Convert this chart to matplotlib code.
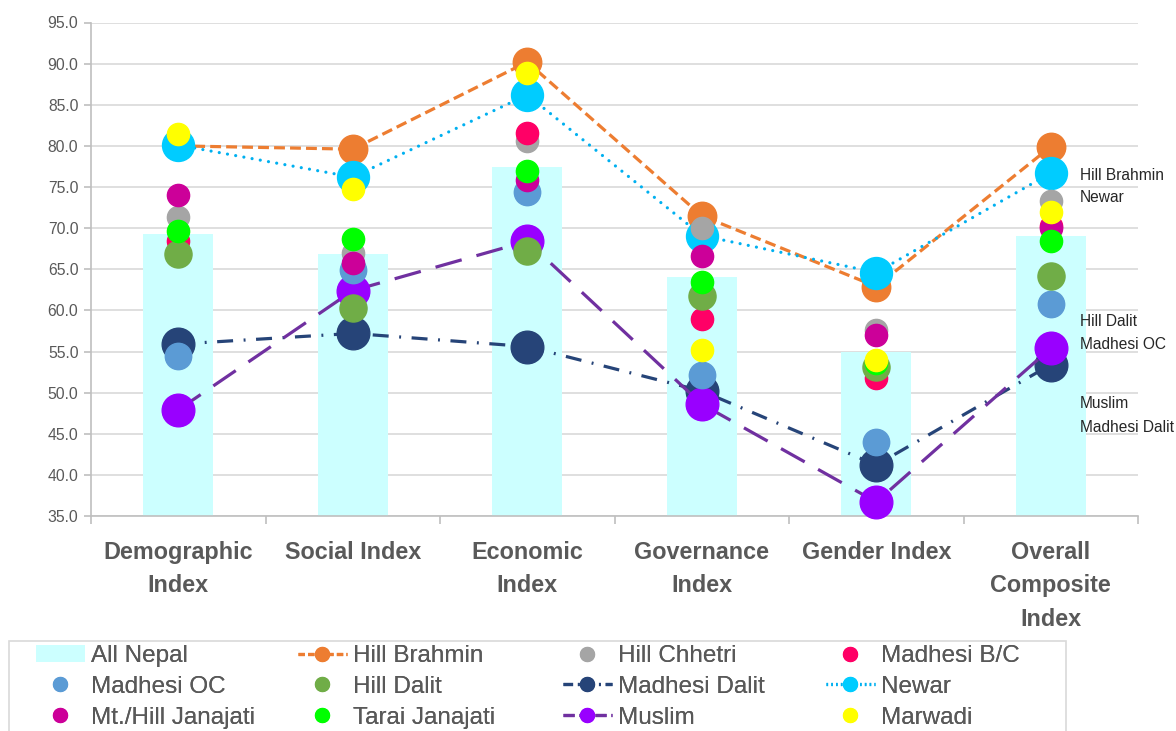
import matplotlib
matplotlib.use("Agg")
import matplotlib.pyplot as plt
from matplotlib.lines import Line2D
from matplotlib.patches import Patch, Rectangle
import numpy as np

categories = ["Demographic\nIndex", "Social Index", "Economic\nIndex",
              "Governance\nIndex", "Gender Index", "Overall\nComposite\nIndex"]

all_nepal = [69.3, 66.9, 77.4, 64.0, 54.9, 69.1]
hill_brahmin = [80.0, 79.6, 90.2, 71.5, 62.9, 79.9]
hill_chhetri = [71.4, 67.0, 80.6, 70.0, 57.6, 73.3]
madhesi_bc = [68.4, 65.5, 81.6, 58.9, 51.8, 70.2]
madhesi_oc = [54.4, 64.9, 74.4, 52.1, 44.0, 60.8]
hill_dalit = [66.9, 60.3, 67.2, 61.7, 53.1, 64.2]
madhesi_dalit = [55.9, 57.2, 55.6, 50.2, 41.2, 53.4]
newar = [80.1, 76.2, 86.2, 69.1, 64.6, 76.7]
mt_hill_janajati = [74.0, 65.7, 75.8, 66.6, 57.0, 70.0]
tarai_janajati = [69.6, 68.7, 76.9, 63.4, 53.6, 68.4]
muslim = [47.9, 62.4, 68.4, 48.6, 36.7, 55.4]
marwadi = [81.4, 74.8, 88.8, 55.2, 54.0, 72.0]

yticks = [35.0, 40.0, 45.0, 50.0, 55.0, 60.0, 65.0, 70.0, 75.0, 80.0, 85.0, 90.0, 95.0]

W, H = 1176, 731
fig = plt.figure(figsize=(W / 100, H / 100), dpi=100)
ax = fig.add_axes([91 / W, (H - 516) / H, (1138 - 91) / W, (516 - 22.5) / H])

x = np.arange(len(categories))
grey_txt = "#595959"
sans = ["Liberation Sans", "DejaVu Sans"]

# bars
ax.bar(x, all_nepal, width=0.4, color="#CCFFFF", zorder=2, bottom=0)

# line series
line_specs = [
    (hill_brahmin, "#ED7D31", "#ED7D31", (0, (3.4, 1.6)), 20.5, "butt"),
    (madhesi_dalit, "#264478", "#264478", (0, (5, 3.3, 0.6, 3.3)), 23.5, "butt"),
    (newar, "#00B0F0", "#00CCFF", (0, (0.01, 2.6)), 23.0, "round"),
    (muslim, "#7030A0", "#9900FF", (0, (8.5, 4.8)), 23.5, "butt"),
]
for vals, lc, mc, ls, ms, cap in line_specs:
    ax.plot(x, vals, color=lc, linestyle=ls, linewidth=2.3, marker="o",
            markersize=ms, markerfacecolor=mc, markeredgecolor=mc,
            dash_capstyle=cap, zorder=3, clip_on=False)

# marker-only series
marker_specs = [
    (hill_chhetri, "#A5A5A5", 16),
    (madhesi_bc, "#FF0066", 16),
    (madhesi_oc, "#5B9BD5", 19),
    (hill_dalit, "#70AD47", 19.5),
    (mt_hill_janajati, "#CC0099", 16),
    (tarai_janajati, "#00FF00", 16),
    (marwadi, "#FFFF00", 16),
]
for vals, c, ms in marker_specs:
    ax.plot(x, vals, linestyle="none", marker="o", markersize=ms,
            markerfacecolor=c, markeredgecolor=c, zorder=4, clip_on=False)

# axes styling
ax.set_xlim(-0.5, 5.5)
ax.set_ylim(35, 95)
ax.set_yticks(yticks)
ax.set_yticklabels([f"{v:.1f}" for v in yticks], fontsize=11.3,
                   family=sans, color=grey_txt)
ax.grid(axis="y", color="#D9D9D9", linewidth=1.2, zorder=0)
ax.set_axisbelow(True)
for s in ["top", "right"]:
    ax.spines[s].set_visible(False)
for s in ["left", "bottom"]:
    ax.spines[s].set_color("#BFBFBF")
    ax.spines[s].set_linewidth(1.2)
ax.tick_params(axis="y", length=5, color="#BFBFBF", width=1.2, pad=4)
ax.set_xticks(x)
ax.set_xticklabels(categories, fontsize=16.8, fontweight="bold",
                   family=sans, color=grey_txt, linespacing=1.58)
ax.tick_params(axis="x", which="major", length=0, pad=18)
ax.set_xticks(np.arange(-0.5, 6.0, 1.0), minor=True)
ax.tick_params(axis="x", which="minor", length=6, color="#BFBFBF", width=1.2)

# side annotations
ann = [("Hill Brahmin", 76.45), ("Newar", 73.67), ("Hill Dalit", 58.6),
       ("Madhesi OC", 55.85), ("Muslim", 48.7), ("Madhesi Dalit", 45.8)]
for txt, yv in ann:
    ax.text(5.168, yv, txt, fontsize=11.2, family=sans, color="#262626",
            va="center", ha="left", clip_on=False)

# legend: four columns placed at fixed positions
def mk(c, lc=None, ls="none", lw=2.3):
    return Line2D([0], [0], color=lc if lc else c, linestyle=ls, linewidth=lw,
                  marker="o", markersize=10, markerfacecolor=c, markeredgecolor=c)

entries = [
    ("All Nepal", Patch(facecolor="#CCFFFF", edgecolor="none")),
    ("Hill Brahmin", mk("#ED7D31", "#ED7D31", (0, (2, 1)))),
    ("Hill Chhetri", mk("#A5A5A5")),
    ("Madhesi B/C", mk("#FF0066")),
    ("Madhesi OC", mk("#5B9BD5")),
    ("Hill Dalit", mk("#70AD47")),
    ("Madhesi Dalit", mk("#264478", "#264478", (0, (3, 1.5, 0.6, 1.5)))),
    ("Newar", mk("#00CCFF", "#00B0F0", (0, (0.5, 1)))),
    ("Mt./Hill Janajati", mk("#CC0099")),
    ("Tarai Janajati", mk("#00FF00")),
    ("Muslim", mk("#9900FF", "#7030A0", (0, (3.5, 1.5)))),
    ("Marwadi", mk("#FFFF00")),
]
col_x = [36, 298, 563, 826]
top_y = 645
for ci in range(4):
    items = [entries[r * 4 + ci] for r in range(3)]
    leg = fig.legend([h for _, h in items], [l for l, _ in items],
                     loc="upper left",
                     bbox_to_anchor=(col_x[ci] / W, 1 - top_y / H),
                     bbox_transform=fig.transFigure,
                     frameon=False, handlelength=2.0,
                     handletextpad=0.25, labelspacing=0.36, borderpad=0,
                     borderaxespad=0, prop={"family": sans, "size": 17.5})
    for t in leg.get_texts():
        t.set_color(grey_txt)
    fig.add_artist(leg)

fig.add_artist(Rectangle((9 / W, -0.01), (1066 - 9) / W, 1.01 - 641 / H,
                         transform=fig.transFigure, fill=False,
                         edgecolor="#D9D9D9", linewidth=1.2))

fig.savefig("out.png", dpi=100)
